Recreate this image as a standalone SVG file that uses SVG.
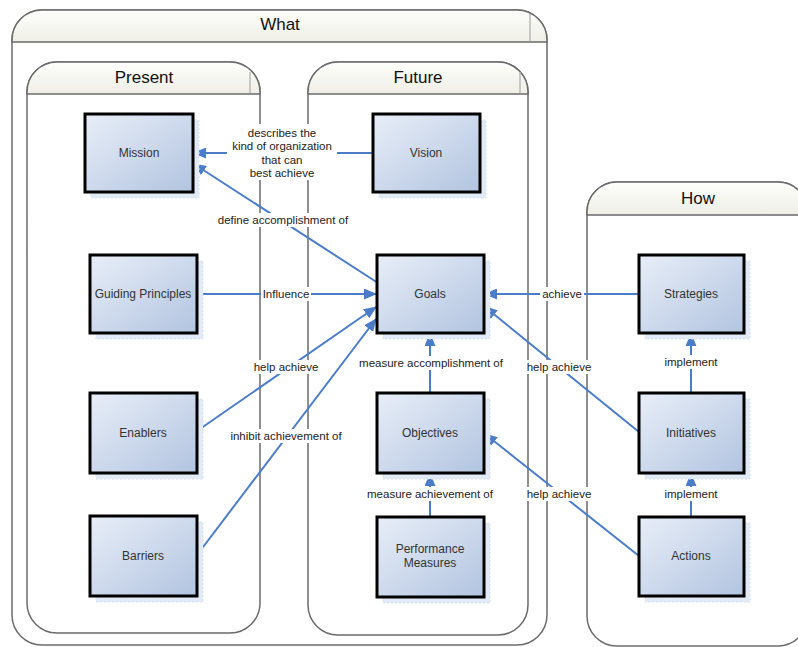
<svg xmlns="http://www.w3.org/2000/svg" width="798" height="647" viewBox="0 0 798 647">
<defs>
<linearGradient id="ng" x1="0" y1="0" x2="1" y2="1">
<stop offset="0" stop-color="#e8eef8"/>
<stop offset="1" stop-color="#b2c4e0"/>
</linearGradient>
<linearGradient id="hg" x1="0" y1="0" x2="0" y2="1">
<stop offset="0" stop-color="#fdfdfb"/>
<stop offset="1" stop-color="#efefe7"/>
</linearGradient>
<marker id="arr" viewBox="0 0 13 11" refX="12" refY="5.5" markerWidth="13" markerHeight="11" markerUnits="userSpaceOnUse" orient="auto">
<path d="M0,0 L13,5.5 L0,11 Z" fill="#4a7cc8"/>
</marker>
<style>
.cont{fill:#ffffff;stroke:#6b6b6b;stroke-width:1.5}
.hdr{fill:url(#hg);stroke:#6b6b6b;stroke-width:1.5}
.tick{stroke:#b8b8b8;stroke-width:1.5}
.ttl{font-family:"Liberation Sans",Arial,sans-serif;font-size:17px;fill:#111;text-anchor:middle}
.shadow{fill:#e2eaf6;stroke:#d6e1f1;stroke-width:1;stroke-dasharray:2 2}
.box{fill:url(#ng);stroke:#000;stroke-width:3}
.nt{font-family:"Liberation Sans",Arial,sans-serif;font-size:12px;fill:#333;text-anchor:middle}
.cn{fill:none;stroke:#4a7cc8;stroke-width:2;marker-end:url(#arr)}
.lb{fill:#ffffff}
.lt{font-family:"Liberation Sans",Arial,sans-serif;font-size:11.5px;fill:#222;text-anchor:middle}
</style>
</defs>
<rect width="798" height="647" fill="#ffffff"/>

<g id="what">
<path class="cont" d="M12,40 A30,30 0 0 1 42,10 H517 A30,30 0 0 1 547,40 V615 A30,30 0 0 1 517,645 H42 A30,30 0 0 1 12,615 Z"/>
<path class="hdr" d="M12,42 V40 A30,30 0 0 1 42,10 H517 A30,30 0 0 1 547,40 V42 Z"/>
<line class="tick" x1="530" y1="14" x2="530" y2="41"/>
<text class="ttl" x="280" y="30">What</text>
</g>
<g id="present">
<path class="cont" d="M27,92 A30,30 0 0 1 57,62 H230 A30,30 0 0 1 260,92 V603 A30,30 0 0 1 230,633 H57 A30,30 0 0 1 27,603 Z"/>
<path class="hdr" d="M27,94 V92 A30,30 0 0 1 57,62 H230 A30,30 0 0 1 260,92 V94 Z"/>
<line class="tick" x1="250" y1="72" x2="250" y2="93"/>
<text class="ttl" x="144" y="83">Present</text>
</g>
<g id="future">
<path class="cont" d="M308,92 A30,30 0 0 1 338,62 H498 A30,30 0 0 1 528,92 V605 A30,30 0 0 1 498,635 H338 A30,30 0 0 1 308,605 Z"/>
<path class="hdr" d="M308,94 V92 A30,30 0 0 1 338,62 H498 A30,30 0 0 1 528,92 V94 Z"/>
<line class="tick" x1="520" y1="72" x2="520" y2="93"/>
<text class="ttl" x="418" y="83">Future</text>
</g>
<g id="how">
<path class="cont" d="M587,212 A30,30 0 0 1 617,182 H778 A30,30 0 0 1 808,212 V616 A30,30 0 0 1 778,646 H617 A30,30 0 0 1 587,616 Z"/>
<path class="hdr" d="M587,215 V212 A30,30 0 0 1 617,182 H778 A30,30 0 0 1 808,212 V215 Z"/>
<text class="ttl" x="698" y="204">How</text>
</g>

<g id="connectors">
<line class="cn" x1="373" y1="153" x2="194" y2="153"/>
<line class="cn" x1="378" y1="283" x2="194" y2="164"/>
<line class="cn" x1="197" y1="294" x2="376" y2="294"/>
<line class="cn" x1="197" y1="431" x2="376" y2="307"/>
<line class="cn" x1="197" y1="555" x2="376" y2="319"/>
<line class="cn" x1="430" y1="393" x2="430" y2="334"/>
<line class="cn" x1="430" y1="517" x2="430" y2="474"/>
<line class="cn" x1="639" y1="294" x2="485" y2="294"/>
<line class="cn" x1="639" y1="432" x2="485" y2="307"/>
<line class="cn" x1="639" y1="556" x2="485" y2="434"/>
<line class="cn" x1="691" y1="393" x2="691" y2="334"/>
<line class="cn" x1="691" y1="517" x2="691" y2="474"/>

<rect class="lb" x="227" y="124" width="110" height="56"/>
<text class="lt" x="282" y="137">describes the</text>
<text class="lt" x="282" y="150">kind of organization</text>
<text class="lt" x="282" y="164">that can</text>
<text class="lt" x="282" y="177">best achieve</text>

<rect class="lb" x="214" y="213" width="138" height="14"/>
<text class="lt" x="283" y="224">define accomplishment of</text>

<rect class="lb" x="261" y="287" width="50" height="14"/>
<text class="lt" x="286" y="298">Influence</text>

<rect class="lb" x="251" y="360" width="70" height="14"/>
<text class="lt" x="286" y="371">help achieve</text>

<rect class="lb" x="224" y="429" width="124" height="14"/>
<text class="lt" x="286" y="440">inhibit achievement of</text>

<rect class="lb" x="356" y="356" width="150" height="14"/>
<text class="lt" x="431" y="367">measure accomplishment of</text>

<rect class="lb" x="362" y="487" width="136" height="14"/>
<text class="lt" x="430" y="498">measure achievement of</text>

<rect class="lb" x="540" y="287" width="44" height="14"/>
<text class="lt" x="562" y="298">achieve</text>

<rect class="lb" x="525" y="360" width="68" height="14"/>
<text class="lt" x="559" y="371">help achieve</text>

<rect class="lb" x="525" y="487" width="68" height="14"/>
<text class="lt" x="559" y="498">help achieve</text>

<rect class="lb" x="663" y="355" width="56" height="14"/>
<text class="lt" x="691" y="366">implement</text>

<rect class="lb" x="663" y="487" width="56" height="14"/>
<text class="lt" x="691" y="498">implement</text>
</g>

<g id="mission">
<rect class="shadow" x="91" y="120" width="108" height="78"/>
<rect class="box" x="85" y="114" width="108" height="78"/>
<text class="nt" x="139" y="157">Mission</text>
</g>
<g id="vision">
<rect class="shadow" x="379" y="120" width="107" height="78"/>
<rect class="box" x="373" y="114" width="107" height="78"/>
<text class="nt" x="426" y="157">Vision</text>
</g>
<g id="guiding-principles">
<rect class="shadow" x="96" y="261" width="107" height="78"/>
<rect class="box" x="90" y="255" width="107" height="78"/>
<text class="nt" x="143" y="298">Guiding Principles</text>
</g>
<g id="goals">
<rect class="shadow" x="383" y="261" width="107" height="78"/>
<rect class="box" x="377" y="255" width="107" height="78"/>
<text class="nt" x="430" y="298">Goals</text>
</g>
<g id="strategies">
<rect class="shadow" x="645" y="261" width="105" height="78"/>
<rect class="box" x="639" y="255" width="105" height="78"/>
<text class="nt" x="691" y="298">Strategies</text>
</g>
<g id="enablers">
<rect class="shadow" x="96" y="399" width="107" height="80"/>
<rect class="box" x="90" y="393" width="107" height="80"/>
<text class="nt" x="143" y="437">Enablers</text>
</g>
<g id="objectives">
<rect class="shadow" x="383" y="399" width="107" height="80"/>
<rect class="box" x="377" y="393" width="107" height="80"/>
<text class="nt" x="430" y="437">Objectives</text>
</g>
<g id="initiatives">
<rect class="shadow" x="645" y="399" width="105" height="80"/>
<rect class="box" x="639" y="393" width="105" height="80"/>
<text class="nt" x="691" y="437">Initiatives</text>
</g>
<g id="barriers">
<rect class="shadow" x="96" y="522" width="107" height="80"/>
<rect class="box" x="90" y="516" width="107" height="80"/>
<text class="nt" x="143" y="560">Barriers</text>
</g>
<g id="performance-measures">
<rect class="shadow" x="383" y="523" width="107" height="80"/>
<rect class="box" x="377" y="517" width="107" height="80"/>
<text class="nt" x="430" y="553">Performance</text>
<text class="nt" x="430" y="567">Measures</text>
</g>
<g id="actions">
<rect class="shadow" x="645" y="523" width="105" height="79"/>
<rect class="box" x="639" y="517" width="105" height="79"/>
<text class="nt" x="691" y="560">Actions</text>
</g>
</svg>
